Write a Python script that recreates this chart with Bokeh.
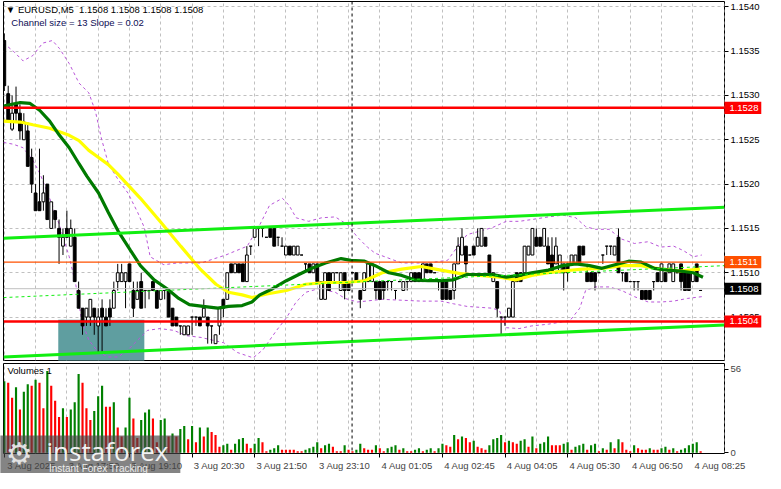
from bokeh.plotting import figure
from bokeh.models import Range1d, FixedTicker, PrintfTickFormatter, Span, Label, ColumnDataSource
from bokeh.layouts import column
from bokeh.embed import file_html
from bokeh.resources import INLINE
from bokeh.core.properties import value

FONT = "Liberation Sans"
FS = "9.5px"

# ---------------- data (EURUSD M5) ----------------
opens = [1.15362, 1.15302, 1.15262, 1.1529, 1.1528, 1.1525, 1.1526, 1.1523, 1.1519, 1.1518,
         1.1518, 1.1520, 1.1515, 1.1517, 1.1515, 1.1513, 1.1515, 1.1513, 1.1514, 1.1508,
         1.1506, 1.1505, 1.1505, 1.1506, 1.1504, 1.1506, 1.1505, 1.1506, 1.1506, 1.1509,
         1.1509, 1.1509, 1.1511, 1.1508, 1.1507, 1.1509, 1.1508, 1.1508, 1.1509, 1.1508,
         1.1507, 1.1508, 1.1508, 1.1506, 1.1505, 1.1504, 1.1503, 1.1503, 1.1505, 1.1505,
         1.1505, 1.1505, 1.1505, 1.1504, 1.1502, 1.1504, 1.1507, 1.1507, 1.1511, 1.1510,
         1.1511, 1.1511, 1.1509, 1.1513, 1.1514, 1.1515, 1.1515, 1.1514, 1.1515, 1.1515,
         1.1514, 1.1513, 1.1512, 1.1513, 1.1512, 1.1512, 1.1512, 1.1511, 1.1511, 1.1510,
         1.1511, 1.1507, 1.1507, 1.1510, 1.1509, 1.1510, 1.1508, 1.1510, 1.1509, 1.1510,
         1.1510, 1.1508, 1.1508, 1.1509, 1.1509, 1.1509, 1.1509, 1.1509, 1.1509, 1.1509,
         1.1508, 1.1509, 1.1508, 1.1509, 1.1509, 1.1510, 1.1510, 1.1509, 1.1511, 1.1511,
         1.1510, 1.1509, 1.1509, 1.1509, 1.1508, 1.1508, 1.1511, 1.1512, 1.1513, 1.1512,
         1.1513, 1.1513, 1.1513, 1.1514, 1.1512, 1.1509, 1.1509, 1.1505, 1.1505, 1.1505,
         1.1505, 1.1510, 1.1510, 1.1510, 1.1512, 1.1512, 1.1514, 1.1514, 1.1513, 1.1513,
         1.1512, 1.1511, 1.1510, 1.1511, 1.1511, 1.1511, 1.1511, 1.1513, 1.1513, 1.1510,
         1.1510, 1.1510, 1.1510, 1.1512, 1.1513, 1.1513, 1.1512, 1.1514, 1.1510, 1.1510,
         1.1509, 1.1509, 1.1509, 1.1508, 1.1508, 1.1508, 1.1509, 1.1510, 1.1509, 1.1510,
         1.1510, 1.1509, 1.1510, 1.1511, 1.1510, 1.1510, 1.1509, 1.1511, 1.1508]
highs = [1.15370, 1.15311, 1.15300, 1.1531, 1.1529, 1.1528, 1.1527, 1.1524, 1.1520, 1.1524,
         1.1521, 1.1520, 1.1518, 1.1517, 1.1516, 1.1515, 1.1517, 1.1516, 1.1515, 1.1509,
         1.1506, 1.1506, 1.1507, 1.1506, 1.1506, 1.1507, 1.1506, 1.1507, 1.1509, 1.1511,
         1.1511, 1.1510, 1.1511, 1.1509, 1.1509, 1.1510, 1.1508, 1.1508, 1.1509, 1.1508,
         1.1508, 1.1508, 1.1508, 1.1506, 1.1505, 1.1504, 1.1504, 1.1504, 1.1505, 1.1505,
         1.1505, 1.1507, 1.1505, 1.1504, 1.1503, 1.1506, 1.1507, 1.1510, 1.1511, 1.1511,
         1.1511, 1.1511, 1.1513, 1.1513, 1.1515, 1.1515, 1.1515, 1.1514, 1.1515, 1.1515,
         1.1514, 1.1514, 1.1513, 1.1513, 1.1513, 1.1513, 1.1512, 1.1511, 1.1511, 1.1511,
         1.1511, 1.1509, 1.1510, 1.1510, 1.1510, 1.1510, 1.1510, 1.1510, 1.1509, 1.1510,
         1.1510, 1.1508, 1.1510, 1.1511, 1.1511, 1.1509, 1.1509, 1.1509, 1.1509, 1.1509,
         1.1508, 1.1509, 1.1509, 1.1509, 1.1510, 1.1510, 1.1510, 1.1511, 1.1511, 1.1511,
         1.1510, 1.1509, 1.1509, 1.1509, 1.1508, 1.1511, 1.1514, 1.1515, 1.1513, 1.1512,
         1.1513, 1.1515, 1.1515, 1.1514, 1.1512, 1.1510, 1.1509, 1.1505, 1.1505, 1.1506,
         1.1509, 1.1510, 1.1510, 1.1513, 1.1513, 1.1515, 1.1515, 1.1514, 1.1515, 1.1514,
         1.1514, 1.1514, 1.1512, 1.1511, 1.1511, 1.1512, 1.1512, 1.1513, 1.1513, 1.1511,
         1.1510, 1.1510, 1.1510, 1.1512, 1.1513, 1.1513, 1.1513, 1.1515, 1.1510, 1.1510,
         1.1509, 1.1509, 1.1509, 1.1508, 1.1508, 1.1508, 1.1509, 1.1510, 1.1511, 1.1510,
         1.1511, 1.1511, 1.1510, 1.1511, 1.1510, 1.1510, 1.1510, 1.1511, 1.1508]
lows = [1.15305, 1.15270, 1.15260, 1.1527, 1.1525, 1.1525, 1.1522, 1.1519, 1.1517, 1.1517,
        1.1517, 1.1516, 1.1515, 1.1515, 1.1511, 1.1512, 1.1514, 1.1513, 1.1509, 1.1506,
        1.1503, 1.1504, 1.1504, 1.1503, 1.1501, 1.1501, 1.1504, 1.1504, 1.1506, 1.1508,
        1.1509, 1.1506, 1.1509, 1.1505, 1.1507, 1.1506, 1.1506, 1.1507, 1.1508, 1.1506,
        1.1507, 1.1507, 1.1505, 1.1504, 1.1504, 1.1503, 1.1503, 1.1503, 1.1503, 1.1504,
        1.1504, 1.1505, 1.1502, 1.1502, 1.1502, 1.1503, 1.1505, 1.1507, 1.1510, 1.1510,
        1.1510, 1.1509, 1.1509, 1.1512, 1.1514, 1.1513, 1.1514, 1.1514, 1.1514, 1.1513,
        1.1513, 1.1513, 1.1512, 1.1512, 1.1512, 1.1512, 1.1512, 1.1510, 1.1510, 1.1510,
        1.1509, 1.1507, 1.1507, 1.1508, 1.1509, 1.1510, 1.1508, 1.1507, 1.1508, 1.1510,
        1.1509, 1.1506, 1.1508, 1.1509, 1.1509, 1.1507, 1.1507, 1.1507, 1.1508, 1.1508,
        1.1507, 1.1509, 1.1508, 1.1508, 1.1509, 1.1509, 1.1509, 1.1509, 1.1510, 1.1510,
        1.1510, 1.1508, 1.1507, 1.1507, 1.1507, 1.1507, 1.1511, 1.1512, 1.1510, 1.1512,
        1.1512, 1.1513, 1.1513, 1.1513, 1.1510, 1.1509, 1.1505, 1.1503, 1.1504, 1.1505,
        1.1505, 1.1509, 1.1509, 1.1510, 1.1512, 1.1512, 1.1513, 1.1513, 1.1513, 1.1511,
        1.1510, 1.1511, 1.1510, 1.1508, 1.1509, 1.1511, 1.1511, 1.1511, 1.1512, 1.1509,
        1.1509, 1.1508, 1.1510, 1.1511, 1.1512, 1.1512, 1.1512, 1.1510, 1.1509, 1.1509,
        1.1509, 1.1508, 1.1508, 1.1507, 1.1507, 1.1507, 1.1508, 1.1509, 1.1509, 1.1509,
        1.1510, 1.1509, 1.1510, 1.1508, 1.1508, 1.1508, 1.1509, 1.1509, 1.1508]
closes = [1.15311, 1.15272, 1.15280, 1.1528, 1.1526, 1.1527, 1.1522, 1.1520, 1.1517, 1.1517,
          1.1519, 1.1516, 1.1518, 1.1516, 1.1514, 1.1514, 1.1514, 1.1515, 1.1509, 1.1506,
          1.1504, 1.1506, 1.1507, 1.1505, 1.1505, 1.1505, 1.1504, 1.1505, 1.1508, 1.1510,
          1.1510, 1.1510, 1.1509, 1.1506, 1.1508, 1.1506, 1.1508, 1.1508, 1.1508, 1.1506,
          1.1508, 1.1508, 1.1505, 1.1504, 1.1504, 1.1504, 1.1504, 1.1504, 1.1505, 1.1505,
          1.1504, 1.1506, 1.1504, 1.1504, 1.1503, 1.1506, 1.1506, 1.1510, 1.1510, 1.1511,
          1.1510, 1.1509, 1.1512, 1.1513, 1.1515, 1.1515, 1.1515, 1.1514, 1.1514, 1.1513,
          1.1514, 1.1513, 1.1513, 1.1512, 1.1513, 1.1513, 1.1512, 1.1511, 1.1510, 1.1511,
          1.1509, 1.1509, 1.1510, 1.1508, 1.1510, 1.1510, 1.1510, 1.1508, 1.1508, 1.1510,
          1.1509, 1.1507, 1.1510, 1.1511, 1.1511, 1.1508, 1.1507, 1.1508, 1.1509, 1.1509,
          1.1508, 1.1509, 1.1509, 1.1509, 1.1510, 1.1509, 1.1509, 1.1511, 1.1510, 1.1510,
          1.1510, 1.1509, 1.1507, 1.1507, 1.1507, 1.1511, 1.1513, 1.1514, 1.1511, 1.1512,
          1.1512, 1.1514, 1.1515, 1.1513, 1.1510, 1.1510, 1.1506, 1.1505, 1.1505, 1.1506,
          1.1509, 1.1509, 1.1509, 1.1513, 1.1513, 1.1515, 1.1513, 1.1513, 1.1515, 1.1511,
          1.1510, 1.1513, 1.1512, 1.1510, 1.1510, 1.1512, 1.1512, 1.1511, 1.1512, 1.1509,
          1.1509, 1.1509, 1.1510, 1.1512, 1.1513, 1.1513, 1.1513, 1.1510, 1.1510, 1.1509,
          1.1509, 1.1509, 1.1509, 1.1507, 1.1507, 1.1507, 1.1509, 1.1509, 1.1511, 1.1509,
          1.1511, 1.1511, 1.1510, 1.1509, 1.1508, 1.1508, 1.1510, 1.1509, 1.1508]
volumes = [48, 47, 37, 44, 29, 41, 46, 45, 49, 47, 30, 55, 45, 35, 24, 30, 24, 29, 34, 53,
           47, 30, 22, 28, 38, 45, 31, 31, 34, 17, 11, 17, 37, 23, 10, 22, 27, 29, 23, 7,
           22, 23, 11, 13, 11, 16, 18, 9, 18, 7, 17, 11, 17, 14, 12, 4, 5, 6, 2, 6,
           9, 10, 6, 3, 6, 10, 7, 1, 2, 3, 5, 2, 2, 2, 2, 1, 1, 2, 3, 4,
           7, 3, 5, 6, 4, 1, 1, 5, 2, 1, 2, 6, 3, 2, 2, 5, 3, 1, 3, 4,
           5, 2, 3, 1, 1, 2, 3, 1, 2, 3, 1, 3, 6, 5, 4, 12, 9, 11, 10, 7,
           8, 4, 3, 2, 5, 9, 10, 12, 7, 8, 7, 6, 8, 9, 4, 11, 3, 6, 7, 11,
           5, 5, 5, 6, 7, 2, 4, 5, 6, 2, 5, 6, 1, 3, 2, 7, 3, 9, 7, 2,
           1, 5, 3, 2, 2, 3, 2, 2, 3, 4, 2, 3, 1, 2, 3, 5, 6, 7, 1]

# moving averages (bar index, price)
green_ma_x = [-0.2, 4.1, 6.6, 9.1, 11.6, 14.1, 16.6, 19.1, 21.1, 24.1, 26.6, 29.1, 32.3, 34.8, 38.3,
              41.6, 44.6, 47.3, 50.8, 54.6, 57.3, 60.8, 63.3, 65.3, 68.6, 72.1, 75.3, 78.6, 82.1,
              86.1, 88.6, 92.1, 94.8, 98.3, 101.6, 104.8, 108.3, 111.6, 114.8, 118.3, 121.6, 124.8,
              128.3, 131.6, 134.8, 139.1, 142.8, 146.1, 149.6, 152.8, 156.1, 159.6, 162.8, 166.1,
              169.6, 172.8, 176.1, 178.6]
green_ma_y = [1.15288, 1.15292, 1.15291, 1.15283, 1.15271, 1.15255, 1.15241, 1.15223, 1.15209,
              1.15190, 1.15168, 1.15147, 1.15125, 1.15108, 1.15092, 1.15082, 1.15071, 1.15064,
              1.15062, 1.15060, 1.15062, 1.15063, 1.15067, 1.15075, 1.15082, 1.15091, 1.15098,
              1.15105, 1.15111, 1.15116, 1.15114, 1.15113, 1.15108, 1.15100, 1.15097, 1.15092,
              1.15091, 1.15091, 1.15092, 1.15098, 1.15098, 1.15098, 1.15095, 1.15097, 1.15100,
              1.15103, 1.15108, 1.15110, 1.15108, 1.15105, 1.15109, 1.15113, 1.15112, 1.15105,
              1.15103, 1.15102, 1.15100, 1.15095]
yellow_ma_x = [-0.2, 4.1, 7.3, 11.6, 16.6, 19.1, 21.6, 24.1, 26.6, 29.1, 34.8, 39.8, 45.1, 50.1,
               54.1, 57.3, 60.8, 63.3, 67.1, 72.1, 77.1, 82.1, 87.1, 92.1, 96.6, 101.6, 106.6,
               111.6, 116.6, 121.6, 126.6, 130.8, 134.8, 139.1, 142.8, 147.8, 152.8, 157.8,
               162.8, 167.8, 172.8, 177.8]
yellow_ma_y = [1.15271, 1.15270, 1.15267, 1.15263, 1.15255, 1.15249, 1.15238, 1.15230, 1.15222,
               1.15211, 1.15184, 1.15158, 1.15130, 1.15104, 1.15087, 1.15078, 1.15075, 1.15072,
               1.15076, 1.15080, 1.15087, 1.15089, 1.15089, 1.15091, 1.15100, 1.15104, 1.15107,
               1.15103, 1.15099, 1.15097, 1.15095, 1.15092, 1.15097, 1.15100, 1.15102, 1.15104,
               1.15105, 1.15108, 1.15108, 1.15104, 1.15102, 1.15104]
# envelope bands (dashed purple)
bb_up_x = [-0.2, 2.3, 4.8, 7.3, 9.8, 12.3, 14.1, 16.6, 19.1, 21.6, 23.3, 24.8, 26.6, 29.1, 31.6,
           34.1, 35.8, 37.3, 40.8, 44.1, 50.3, 56.6, 62.1, 65.3, 67.8, 71.1, 72.8, 74.6, 77.8,
           81.1, 84.6, 87.8, 90.3, 92.8, 94.8, 101.6, 108.3, 113.3, 115.8, 118.3, 121.6, 124.8,
           128.3, 131.6, 134.8, 139.1, 142.8, 146.1, 148.6, 151.1, 154.6, 157.8, 161.1, 164.6,
           167.8, 171.1, 173.6, 176.1, 178.3]
bb_up_y = [1.15359, 1.15350, 1.15339, 1.15345, 1.15359, 1.15362, 1.15353, 1.15336, 1.15314,
           1.15303, 1.15282, 1.15252, 1.15223, 1.15205, 1.15190, 1.15168, 1.15151, 1.15118,
           1.15109, 1.15111, 1.15111, 1.15120, 1.15130, 1.15154, 1.15176, 1.15184, 1.15176,
           1.15162, 1.15158, 1.15162, 1.15163, 1.15154, 1.15140, 1.15129, 1.15122, 1.15111,
           1.15111, 1.15114, 1.15129, 1.15143, 1.15147, 1.15151, 1.15158, 1.15158, 1.15160,
           1.15163, 1.15165, 1.15162, 1.15152, 1.15149, 1.15149, 1.15138, 1.15133, 1.15135,
           1.15129, 1.15130, 1.15125, 1.15118, 1.15120]
bb_lo_x = [-0.2, 2.3, 4.8, 7.3, 9.1, 11.6, 14.1, 16.6, 18.3, 19.8, 21.6, 24.1, 26.6, 29.1, 31.6,
           34.1, 36.6, 39.8, 43.3, 46.6, 50.3, 56.1, 59.6, 63.6, 66.1, 69.6, 72.1, 74.6, 77.1,
           80.3, 84.6, 87.1, 90.3, 96.6, 106.6, 111.6, 114.8, 118.3, 124.8, 126.6, 128.3, 131.6,
           134.8, 139.1, 144.6, 147.1, 148.6, 151.1, 154.6, 157.8, 161.1, 164.6, 167.8, 171.1,
           174.6, 178.3]
bb_lo_y = [1.15247, 1.15245, 1.15241, 1.15227, 1.15212, 1.15184, 1.15154, 1.15118, 1.15086,
           1.15046, 1.15024, 1.15010, 1.15005, 1.15005, 1.15013, 1.15024, 1.15035, 1.15037,
           1.15035, 1.15029, 1.15027, 1.15021, 1.15010, 1.15004, 1.15013, 1.15035, 1.15049,
           1.15067, 1.15078, 1.15082, 1.15078, 1.15071, 1.15067, 1.15070, 1.15068, 1.15068,
           1.15065, 1.15062, 1.15060, 1.15057, 1.15038, 1.15037, 1.15040, 1.15042, 1.15046,
           1.15060, 1.15080, 1.15084, 1.15084, 1.15080, 1.15073, 1.15067, 1.15067, 1.15068,
           1.15071, 1.15073]
# regression channel
channel_x = [-0.2, 184.1]
channel_upper = [1.15139, 1.15174]
channel_mid = [1.15072, 1.15108]
channel_lower = [1.15005, 1.15041]
# support zone rectangle
zone_x = [13.8, 35.8]
zone_y = [1.14990, 1.15047]
# horizontal levels
level_prices = [1.15286, 1.15112, 1.15082, 1.15045]
level_labels = ["1.1528", "1.1511", "1.1508", "1.1504"]
price_ticks = [1.1505, 1.1510, 1.1515, 1.1520, 1.1525, 1.1530, 1.1535, 1.1540]
volume_ticks = [0, 56]
time_ticks = [0, 16, 32, 48, 64, 80, 96, 112, 128, 144, 160, 176]
time_labels = ["3 Aug 2025", "3 Aug 17:50", "3 Aug 19:10", "3 Aug 20:30", "3 Aug 21:50",
               "3 Aug 23:10", "4 Aug 01:05", "4 Aug 02:45", "4 Aug 04:05", "4 Aug 05:30",
               "4 Aug 06:50", "4 Aug 08:25"]
day_separator = 88.9

# ---------------- derived ----------------
n = len(closes)
idx = list(range(n))
body_top = [max(o, c) for o, c in zip(opens, closes)]
body_bot = [min(o, c) for o, c in zip(opens, closes)]
body_fill = ["white" if c >= o else "black" for o, c in zip(opens, closes)]
vol_colors = ["#008000"] + ["#008000" if volumes[i] > volumes[i - 1] else "#ff0000" for i in range(1, n)]

X0, X1 = -0.2, 184.1
X_RANGE = Range1d(X0, X1)

# ---------------- price pane ----------------
p1 = figure(width=765, height=361, x_range=X_RANGE, y_range=Range1d(1.15001, 1.15406),
            y_axis_location="right", x_axis_location=None, toolbar_location=None,
            output_backend="svg", min_border_left=3, min_border_right=41,
            min_border_top=1, min_border_bottom=1)
p1.outline_line_color = "black"
p1.outline_line_width = 1
p1.background_fill_color = "white"
p1.border_fill_color = "white"
p1.xgrid.ticker = FixedTicker(ticks=list(range(0, 185, 8)))
p1.ygrid.ticker = FixedTicker(ticks=price_ticks)
p1.xgrid.grid_line_color = "#c0c0c0"
p1.ygrid.grid_line_color = "#c0c0c0"
p1.xgrid.grid_line_dash = "3 3"
p1.ygrid.grid_line_dash = "3 3"

ya = p1.yaxis[0]
ya.ticker = FixedTicker(ticks=price_ticks)
ya.formatter = PrintfTickFormatter(format="%.4f")
ya.axis_line_color = None
ya.major_tick_out = 4
ya.major_tick_in = 0
ya.major_tick_line_color = "black"
ya.minor_tick_line_color = None
ya.major_label_standoff = 2
ya.major_label_text_font = FONT
ya.major_label_text_font_size = FS
ya.major_label_text_color = "black"

# support zone
p1.quad(left=[zone_x[0]], right=[zone_x[1]], bottom=[zone_y[0]], top=[zone_y[1]],
        fill_color="#5f9ea0", line_color=None)

# day separator
p1.add_layout(Span(location=day_separator, dimension="height", line_color="black",
                   line_dash="3 3", line_width=1))

# envelope bands
p1.line(bb_up_x, bb_up_y, line_color="#b855d8", line_dash="3 3", line_width=1)
p1.line(bb_lo_x, bb_lo_y, line_color="#b855d8", line_dash="3 3", line_width=1)

# candles
src = ColumnDataSource(dict(x=idx, o=opens, h=highs, l=lows, c=closes,
                            top=body_top, bot=body_bot, fill=body_fill))
p1.segment(x0="x", y0="l", x1="x", y1="h", source=src, line_color="black", line_width=1)
p1.vbar(x="x", width=0.72, top="top", bottom="bot", source=src,
        fill_color="fill", line_color="black", line_width=1)

# moving averages
p1.line(yellow_ma_x, yellow_ma_y, line_color="#ffff00", line_width=3.2)
p1.line(green_ma_x, green_ma_y, line_color="#007a00", line_width=3.2)

# channel
p1.line(channel_x, channel_upper, line_color="#11ee11", line_width=3)
p1.line(channel_x, channel_lower, line_color="#11ee11", line_width=3)
p1.line(channel_x, channel_mid, line_color="#11ee11", line_width=1, line_dash="3 3")

# horizontal levels
p1.add_layout(Span(location=level_prices[0], dimension="width", line_color="#ff0000", line_width=2.5))
p1.add_layout(Span(location=level_prices[1], dimension="width", line_color="#ff5000", line_width=1.2))
p1.add_layout(Span(location=level_prices[2], dimension="width", line_color="#c0c0c0", line_width=1))
p1.add_layout(Span(location=level_prices[3], dimension="width", line_color="#ff0000", line_width=2.5))

# price tags on the axis (overlay level so they are drawn over the axis area)
tag_colors = ["#ff0000", "#ff5000", "#000000", "#ff0000"]
tag_h = 0.000136
tag_src = ColumnDataSource(dict(
    left=[X1 - 0.03] * 4, right=[X1 + 9.4] * 4,
    top=[pr + tag_h / 2 for pr in level_prices], bottom=[pr - tag_h / 2 for pr in level_prices],
    y=level_prices, text=level_labels, color=tag_colors, tx=[X1 - 0.03] * 4))
p1.quad(left="left", right="right", top="top", bottom="bottom", source=tag_src,
        fill_color="color", line_color=None, level="overlay")
p1.text(x="tx", y="y", text="text", source=tag_src, x_offset=5, text_color="white",
        text_font=value(FONT), text_font_size=FS, text_align="left",
        text_baseline="middle", level="overlay")

# header texts
p1.add_layout(Label(x=0.4, y=1.15403, text="\u25bc EURUSD,M5\u00a0 1.1508 1.1508 1.1508 1.1508",
                    text_font=FONT, text_font_size=FS, text_color="black",
                    text_align="left", text_baseline="top"))
p1.add_layout(Label(x=1.8, y=1.15388, text="Channel size = 13 Slope = 0.02",
                    text_font=FONT, text_font_size=FS, text_color="#0d0d55",
                    text_align="left", text_baseline="top"))

# ---------------- volume pane ----------------
p2 = figure(width=765, height=112, x_range=X_RANGE, y_range=Range1d(-0.5, 60),
            y_axis_location="right", toolbar_location=None, output_backend="svg",
            min_border_left=3, min_border_right=41, min_border_top=2, min_border_bottom=20)
p2.outline_line_color = "black"
p2.background_fill_color = "white"
p2.border_fill_color = "white"
p2.xgrid.ticker = FixedTicker(ticks=list(range(0, 185, 8)))
p2.xgrid.grid_line_color = "#c0c0c0"
p2.xgrid.grid_line_dash = "3 3"
p2.ygrid.grid_line_color = None

va = p2.yaxis[0]
va.ticker = FixedTicker(ticks=volume_ticks)
va.axis_line_color = None
va.major_tick_out = 4
va.major_tick_in = 0
va.minor_tick_line_color = None
va.major_label_standoff = 2
va.major_label_text_font = FONT
va.major_label_text_font_size = FS

label_pos = [t + 7 for t in time_ticks]
xa = p2.xaxis[0]
xa.ticker = FixedTicker(ticks=label_pos, minor_ticks=time_ticks)
xa.major_label_overrides = {pos: lab for pos, lab in zip(label_pos, time_labels)}
xa.axis_line_color = None
xa.major_tick_line_color = None
xa.major_tick_out = 3
xa.major_tick_in = 0
xa.minor_tick_line_color = "black"
xa.minor_tick_out = 4
xa.minor_tick_in = 0
xa.major_label_standoff = 2
xa.major_label_text_font = FONT
xa.major_label_text_font_size = FS

p2.add_layout(Span(location=day_separator, dimension="height", line_color="black",
                   line_dash="3 3", line_width=1))
p2.vbar(x=idx, top=volumes, bottom=0, width=0.55, fill_color=vol_colors, line_color=None)
p2.add_layout(Label(x=0.8, y=59.2, text="Volumes 1", text_font=FONT, text_font_size=FS,
                    text_color="black", text_align="left", text_baseline="top"))

# watermark
p2.quad(left=[-1.0], right=[45.0], bottom=[-15.0], top=[11.6], fill_color="#444444",
        fill_alpha=0.66, line_color=None, level="overlay")
p2.text(x=[0.4], y=[-0.5], text=["\u2699"], text_font=value("DejaVu Sans"), text_font_size="30px",
        text_color="#e2e2e2", text_baseline="middle", text_align="left", level="overlay")
p2.text(x=[10.8], y=[1.5], text=["instaforex"], text_font=value("Open Sans"), text_font_size="26px",
        text_color="#f2f2f2", text_baseline="alphabetic", text_align="left", level="overlay")
p2.text(x=[11.4], y=[-10.3], text=["Instant Forex Tracking"], text_font=value(FONT),
        text_font_size="10px", text_color="#ececec", text_baseline="alphabetic",
        text_align="left", level="overlay")

layout = column(p1, p2)
open("out.html", "w").write(file_html(layout, INLINE))
